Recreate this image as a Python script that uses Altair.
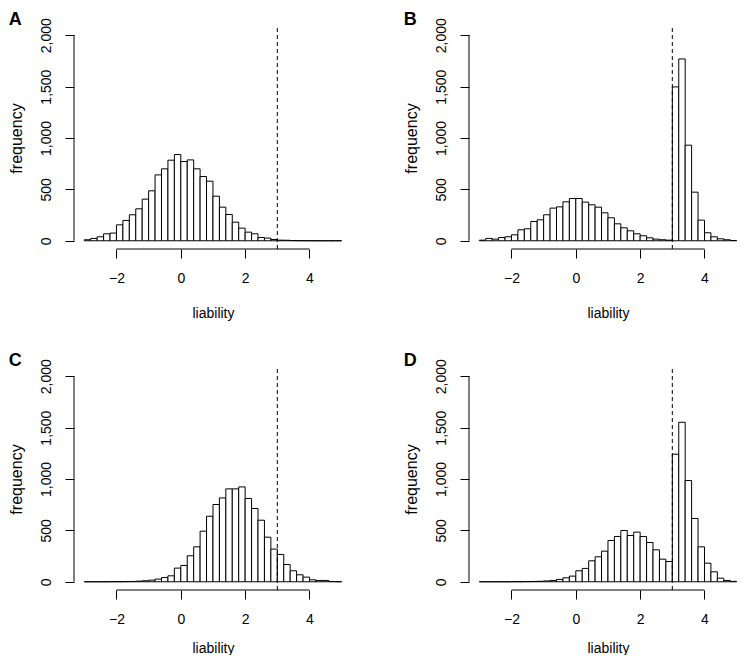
import altair as alt
import pandas as pd

# ---- data (histograms, bin width 0.2 from -3 to 5) ----
BIN_EDGES = [round(-3 + 0.2 * i, 1) for i in range(41)]

COUNTS_A = [10, 23, 39, 68, 75, 155, 198, 253, 311, 405,
            486, 641, 700, 784, 839, 771, 787, 700, 625, 580,
            434, 327, 256, 181, 123, 84, 68, 32, 26, 13,
            6, 5, 2, 1, 1, 0, 0, 0, 0, 0]
COUNTS_B = [6, 23, 16, 32, 39, 58, 107, 117, 188, 204,
            253, 318, 330, 379, 411, 411, 376, 350, 327, 272,
            224, 165, 126, 97, 68, 49, 29, 16, 10, 6,
            1497, 1769, 930, 473, 201, 78, 39, 19, 10, 3]
COUNTS_C = [0, 0, 0, 0, 1, 1, 2, 3, 6, 10,
            16, 26, 42, 58, 133, 159, 253, 340, 492, 638,
            752, 816, 904, 904, 923, 810, 713, 599, 434, 318,
            266, 168, 107, 68, 45, 19, 13, 13, 3, 1]
COUNTS_D = [0, 0, 0, 0, 0, 1, 1, 2, 3, 5,
            8, 13, 23, 39, 55, 107, 130, 204, 243, 298,
            402, 441, 499, 450, 483, 440, 382, 311, 220, 197,
            1241, 1552, 985, 616, 340, 181, 97, 35, 13, 4]

PANELS = ["A", "B", "C", "D"]
THRESHOLD = 3
X_TICKS = [-2, 0, 2, 4]
Y_TICKS = [0, 500, 1000, 1500, 2000]
X_DOMAIN = [-3.32, 5.02]
Y_DOMAIN = [-80, 2080]

FONT = "Liberation Sans"
W, H = 268.3, 222


def panel(letter, counts, title_y):
    df = pd.DataFrame({
        "start": BIN_EDGES[:-1],
        "end": BIN_EDGES[1:],
        "count": counts,
        "base": [0] * len(counts),
    })
    one = pd.DataFrame({"k": [0]})
    xscale = alt.Scale(domain=X_DOMAIN, nice=False, zero=False)
    yscale = alt.Scale(domain=Y_DOMAIN, nice=False, zero=False)
    xaxis = alt.Axis(values=X_TICKS, labelExpr="format(datum.value, 'd')", title="liability",
                     domain=False, grid=False, tickSize=9, tickColor="black",
                     labelPadding=13, labelFontSize=14, labelColor="black",
                     labelBaseline="top", labelFont=FONT,
                     titleFont=FONT, titleFontSize=14, titleFontWeight="normal",
                     titleColor="black", titleX=139, titleY=title_y, titleBaseline="alphabetic",
                     labelFlush=False, labelOverlap=False)
    yaxis = alt.Axis(values=Y_TICKS, labelExpr="format(datum.value, ',')", title="frequency",
                     domain=False, grid=False, tickSize=9, tickColor="black",
                     labelAngle=270, labelAlign="center", labelBaseline="alphabetic",
                     labelPadding=15, labelFontSize=14, labelColor="black",
                     labelFont=FONT, titleFont=FONT, titleFontSize=16,
                     titleFontWeight="normal", titleColor="black",
                     titleAngle=270, titleX=-53, titleBaseline="alphabetic",
                     labelFlush=False, labelOverlap=False)

    bars = alt.Chart(df).mark_bar(fill="white", stroke="black", strokeWidth=1).encode(
        x=alt.X("start:Q", scale=xscale, axis=xaxis),
        x2="end:Q",
        y=alt.Y("count:Q", scale=yscale, axis=yaxis),
        y2="base:Q",
    )
    yline = alt.Chart(one).mark_rule(color="black", strokeWidth=1).encode(
        x=alt.value(0), y=alt.datum(0), y2=alt.datum(2000))
    xline = alt.Chart(one).mark_rule(color="black", strokeWidth=1).encode(
        y=alt.value(H), x=alt.datum(X_TICKS[0]), x2=alt.datum(X_TICKS[-1]))
    thresh = alt.Chart(one).mark_rule(color="black", strokeWidth=1, strokeDash=[4, 3]).encode(
        x=alt.datum(THRESHOLD), y=alt.datum(Y_DOMAIN[0]), y2=alt.datum(Y_DOMAIN[1]))
    label = alt.Chart(one).mark_text(text=letter, font=FONT, fontSize=18, fontWeight="bold",
                                     align="left", baseline="alphabetic", color="black").encode(
        x=alt.value(-65.3), y=alt.value(-2))
    return alt.layer(bars, yline, xline, thresh, label).properties(width=W, height=H)


charts = [
    panel("A", COUNTS_A, 68),
    panel("B", COUNTS_B, 68),
    panel("C", COUNTS_C, 62),
    panel("D", COUNTS_D, 62),
]

chart = alt.concat(*charts, columns=2, spacing={"row": 119, "column": 126},
                   bounds="flush").properties(
    padding={"top": 3, "left": 0, "right": 0, "bottom": 0}
).configure_view(stroke=None)

chart.save("out.html", embed_options={"renderer": "svg", "actions": False})
